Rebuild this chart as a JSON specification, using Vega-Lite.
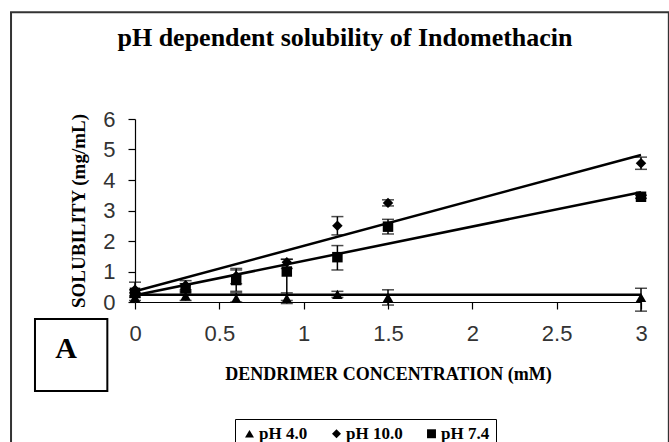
{
  "$schema": "https://vega.github.io/schema/vega-lite/v6.json",
  "width": 506,
  "height": 183,
  "autosize": {"type": "none"},
  "padding": {"left": 135, "top": 119, "right": 28, "bottom": 140},
  "background": "white",
  "title": {
    "text": "pH dependent solubility of Indomethacin",
    "font": "Liberation Serif",
    "fontSize": 26,
    "fontWeight": "bold",
    "color": "black",
    "anchor": "middle",
    "frame": "group",
    "baseline": "alphabetic",
    "offset": -61,
    "dx": -43
  },
  "config": {
    "view": {"stroke": null},
    "axis": {"grid": false, "domainColor": "black", "tickColor": "black", "domainWidth": 1.2, "tickWidth": 1.2, "tickSize": 7, "labelOverlap": false},
    "axisX": {"tickCount": 6},
    "axisY": {"tickCount": 6}
  },
  "datasets": {
    "points": [
      {"ph": "pH 4.0", "conc": 0, "sol": 0.15, "lo": 0.05, "hi": 0.3},
      {"ph": "pH 4.0", "conc": 0.3, "sol": 0.2, "lo": 0.05, "hi": 0.35},
      {"ph": "pH 4.0", "conc": 0.6, "sol": 0.12, "lo": 0.0, "hi": 0.3},
      {"ph": "pH 4.0", "conc": 0.9, "sol": 0.12, "lo": -0.05, "hi": 0.3},
      {"ph": "pH 4.0", "conc": 1.2, "sol": 0.25, "lo": 0.15, "hi": 0.35},
      {"ph": "pH 4.0", "conc": 1.5, "sol": 0.15, "lo": -0.1, "hi": 0.4},
      {"ph": "pH 4.0", "conc": 3, "sol": 0.15, "lo": -0.3, "hi": 0.45},
      {"ph": "pH 10.0", "conc": 0, "sol": 0.4, "lo": 0.15, "hi": 0.65},
      {"ph": "pH 10.0", "conc": 0.3, "sol": 0.55, "lo": 0.4, "hi": 0.7},
      {"ph": "pH 10.0", "conc": 0.6, "sol": 0.85, "lo": 0.6, "hi": 1.1},
      {"ph": "pH 10.0", "conc": 0.9, "sol": 1.3, "lo": 1.1, "hi": 1.4},
      {"ph": "pH 10.0", "conc": 1.2, "sol": 2.5, "lo": 2.2, "hi": 2.8},
      {"ph": "pH 10.0", "conc": 1.5, "sol": 3.25, "lo": 3.15, "hi": 3.35},
      {"ph": "pH 10.0", "conc": 3, "sol": 4.55, "lo": 4.35, "hi": 4.75},
      {"ph": "pH 7.4", "conc": 0, "sol": 0.3, "lo": 0.2, "hi": 0.4},
      {"ph": "pH 7.4", "conc": 0.3, "sol": 0.45, "lo": 0.3, "hi": 0.6},
      {"ph": "pH 7.4", "conc": 0.6, "sol": 0.72, "lo": 0.35, "hi": 1.05},
      {"ph": "pH 7.4", "conc": 0.9, "sol": 1.0, "lo": 0.05, "hi": 1.4},
      {"ph": "pH 7.4", "conc": 1.2, "sol": 1.47, "lo": 1.05, "hi": 1.85},
      {"ph": "pH 7.4", "conc": 1.5, "sol": 2.47, "lo": 2.23, "hi": 2.71},
      {"ph": "pH 7.4", "conc": 3, "sol": 3.45, "lo": 3.4, "hi": 3.5}
    ],
    "trend": [
      {"ph": "pH 4.0", "conc": 0, "sol": 0.24},
      {"ph": "pH 4.0", "conc": 3, "sol": 0.24},
      {"ph": "pH 10.0", "conc": 0, "sol": 0.35},
      {"ph": "pH 10.0", "conc": 3, "sol": 4.82},
      {"ph": "pH 7.4", "conc": 0, "sol": 0.22},
      {"ph": "pH 7.4", "conc": 3, "sol": 3.6}
    ],
    "label": [{"panel": "A"}]
  },
  "layer": [
    {
      "data": {"name": "label"},
      "mark": {"type": "rect", "fill": null, "stroke": "#333", "strokeWidth": 2},
      "encoding": {
        "x": {"datum": -0.735, "type": "quantitative"},
        "x2": {"datum": 3.165},
        "y": {"datum": 9.5, "type": "quantitative"},
        "y2": {"datum": -5}
      }
    },
    {
      "data": {"name": "label"},
      "mark": {"type": "rect", "fill": "white", "stroke": "black", "strokeWidth": 2},
      "encoding": {
        "x": {"datum": -0.593, "type": "quantitative"},
        "x2": {"datum": -0.164},
        "y": {"datum": -0.557, "type": "quantitative"},
        "y2": {"datum": -2.92}
      }
    },
    {
      "data": {"name": "label"},
      "mark": {"type": "text", "font": "Liberation Serif", "fontWeight": "bold", "fontSize": 30, "color": "black", "baseline": "middle", "align": "center"},
      "encoding": {
        "x": {"datum": -0.409, "type": "quantitative"},
        "y": {"datum": -1.54, "type": "quantitative"},
        "text": {"field": "panel"}
      }
    },
    {
      "data": {"name": "trend"},
      "mark": {"type": "line", "color": "black", "strokeWidth": 2.5},
      "encoding": {
        "x": {"field": "conc", "type": "quantitative"},
        "y": {"field": "sol", "type": "quantitative"},
        "detail": {"field": "ph"}
      }
    },
    {
      "data": {"name": "points"},
      "mark": {"type": "rule", "color": "black", "strokeWidth": 1.5},
      "encoding": {
        "x": {"field": "conc", "type": "quantitative"},
        "y": {"field": "lo", "type": "quantitative"},
        "y2": {"field": "hi"}
      }
    },
    {
      "data": {"name": "points"},
      "mark": {"type": "tick", "color": "black", "orient": "horizontal", "size": 12, "thickness": 1.5},
      "encoding": {
        "x": {"field": "conc", "type": "quantitative"},
        "y": {"field": "lo", "type": "quantitative"}
      }
    },
    {
      "data": {"name": "points"},
      "mark": {"type": "tick", "color": "black", "orient": "horizontal", "size": 12, "thickness": 1.5},
      "encoding": {
        "x": {"field": "conc", "type": "quantitative"},
        "y": {"field": "hi", "type": "quantitative"}
      }
    },
    {
      "data": {"name": "points"},
      "mark": {"type": "point", "filled": true, "color": "black", "opacity": 1, "size": 110},
      "encoding": {
        "x": {
          "field": "conc", "type": "quantitative",
          "scale": {"domain": [0, 3], "nice": false, "zero": false},
          "axis": {
            "format": "~g",
            "labelFont": "Liberation Sans", "labelFontSize": 22, "labelColor": "#333",
            "labelPadding": 14, "labelFlush": false, "labelOverlap": false,
            "title": "DENDRIMER CONCENTRATION (mM)",
            "titleFont": "Liberation Serif", "titleFontSize": 18, "titleFontWeight": "bold", "titleColor": "black",
            "titlePadding": 21
          }
        },
        "y": {
          "field": "sol", "type": "quantitative",
          "scale": {"domain": [0, 6], "nice": false, "zero": false},
          "axis": {
            "format": "~g",
            "labelFont": "Liberation Sans", "labelFontSize": 22, "labelColor": "#333",
            "labelPadding": 13, "labelFlush": false, "labelOverlap": false,
            "title": "SOLUBILITY (mg/mL)",
            "titleFont": "Liberation Serif", "titleFontSize": 19, "titleFontWeight": "bold", "titleColor": "black",
            "titlePadding": 14
          }
        },
        "shape": {
          "field": "ph", "type": "nominal",
          "scale": {"domain": ["pH 4.0", "pH 10.0", "pH 7.4"], "range": ["triangle-up", "diamond", "square"]},
          "legend": {
            "title": null,
            "orient": "none",
            "legendX": 100,
            "legendY": 300,
            "direction": "horizontal",
            "strokeColor": "black",
            "padding": 6,
            "symbolFillColor": "black",
            "symbolStrokeColor": "black",
            "symbolSize": 80,
            "symbolOffset": 0,
            "labelFont": "Liberation Serif",
            "labelFontWeight": "bold",
            "labelFontSize": 17,
            "labelColor": "black",
            "labelOffset": 1,
            "columnPadding": 20
          }
        }
      }
    }
  ]
}
